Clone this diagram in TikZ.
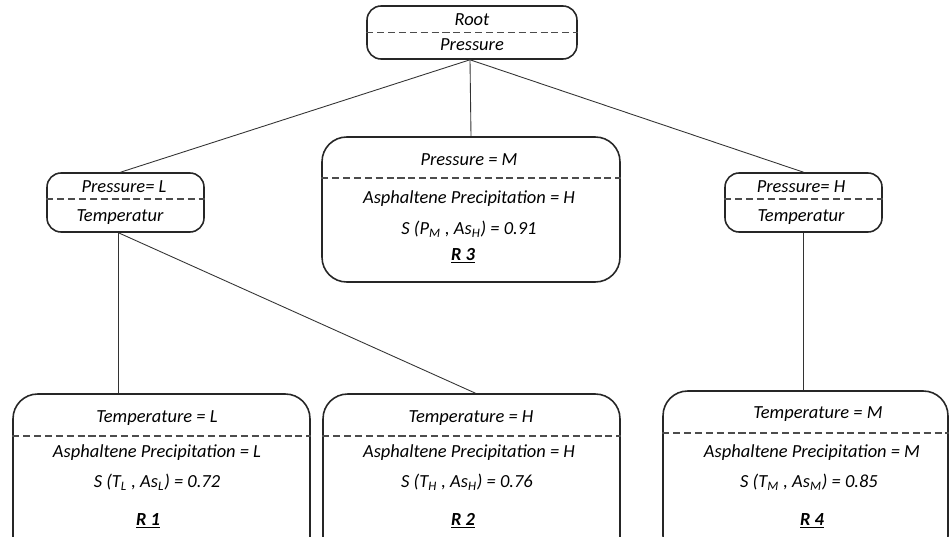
\documentclass[tikz,border=0pt]{standalone}
\usepackage{fontspec}
\setmainfont{Carlito}
\usetikzlibrary{positioning, calc}

\tikzset{
	box/.style={draw=black!85, line width=0.9pt, rounded corners=8pt},
	leaf/.style={box, rounded corners=14pt},
	sep/.style={draw=black!70, line width=0.7pt, dash pattern=on 4pt off 2.2pt},
	link/.style={draw=black!80, line width=0.5pt},
	lbl/.style={font=\itshape\fontsize{10.5}{12}\selectfont, inner sep=0pt}
}

\begin{document}
\begin{tikzpicture}
	\begin{scope}[x=0.02cm, y=-0.02cm]
		\clip (0,0) rectangle (950,537);
		% boxes
		\node[box, minimum width=4.2cm, minimum height=1.06cm] (root) at (472,32.5) {};
		\node[box, minimum width=3.14cm, minimum height=1.18cm] (pl) at (125.5,202.5) {};
		\node[box, minimum width=3.14cm, minimum height=1.18cm] (ph) at (803.5,202.5) {};
		\node[leaf, minimum width=5.96cm, minimum height=2.9cm] (r3) at (471,209.5) {};
		\node[leaf, minimum width=5.94cm, minimum height=3.4cm] (r1) at (161.5,479) {};
		\node[leaf, minimum width=5.94cm, minimum height=3.4cm] (r2) at (471.5,479) {};
		\node[leaf, minimum width=5.7cm, minimum height=3.4cm] (r4) at (805.5,476) {};
		% dashed separators
		\draw[sep] (root.west) -- (root.east);
		\draw[sep] (pl.west |- 0,199) -- (pl.east |- 0,199);
		\draw[sep] (ph.west |- 0,199) -- (ph.east |- 0,199);
		\draw[sep] (r3.west |- 0,178) -- (r3.east |- 0,178);
		\draw[sep] (r1.west |- 0,436) -- (r1.east |- 0,436);
		\draw[sep] (r2.west |- 0,436) -- (r2.east |- 0,436);
		\draw[sep] (r4.west |- 0,433) -- (r4.east |- 0,433);
		% texts
		\node[lbl] (rootA) at (472,20) {Root};
		\node[lbl] (rootB) at (472,45) {Pressure};
		\node[lbl] (plA) at (124,187) {Pressure= L};
		\node[lbl] (plB) at (120,217) {Temperatur};
		\node[lbl] (phA) at (801,187) {Pressure= H};
		\node[lbl] (phB) at (801,217) {Temperatur};
		\node[lbl] (r3A) at (469,160) {Pressure = M};
		\node[lbl] (r3B) at (469,199) {Asphaltene Precipitation = H};
		\node[lbl] (r3C) at (469,229) {S (P\textsubscript{M} , As\textsubscript{H}) = 0.91};
		\node[lbl] (r3D) at (463,256) {\bfseries\underline{R 3}};
		\node[lbl] (r1A) at (157,418) {Temperature = L};
		\node[lbl] (r1B) at (157,453) {Asphaltene Precipitation = L};
		\node[lbl] (r1C) at (157,482) {S (T\textsubscript{L} , As\textsubscript{L}) = 0.72};
		\node[lbl] (r1D) at (148,521) {\bfseries\underline{R 1}};
		\node[lbl] (r2A) at (471,418) {Temperature = H};
		\node[lbl] (r2B) at (469,453) {Asphaltene Precipitation = H};
		\node[lbl] (r2C) at (467,482) {S (T\textsubscript{H} , As\textsubscript{H}) = 0.76};
		\node[lbl] (r2D) at (463,521) {\bfseries\underline{R 2}};
		\node[lbl] (r4A) at (818,414) {Temperature = M};
		\node[lbl] (r4B) at (812,453) {Asphaltene Precipitation = M};
		\node[lbl] (r4C) at (809,482) {S (T\textsubscript{M} , As\textsubscript{M}) = 0.85};
		\node[lbl] (r4D) at (812,521) {\bfseries\underline{R 4}};
		% connectors
		\draw[link] ([xshift=-0.04cm]root.south) -- ([xshift=-0.1cm]pl.north);
		\draw[link] ([xshift=-0.04cm]root.south) -- (r3.north);
		\draw[link] ([xshift=-0.04cm]root.south) -- (ph.north);
		\draw[link] ([xshift=-0.14cm]pl.south) -- ([xshift=-0.14cm]pl.south |- r1.north);
		\draw[link] ([xshift=-0.14cm]pl.south) -- ([xshift=0.08cm]r2.north);
		\draw[link] (ph.south) -- (ph.south |- r4.north);
	\end{scope}
\end{tikzpicture}
\end{document}
